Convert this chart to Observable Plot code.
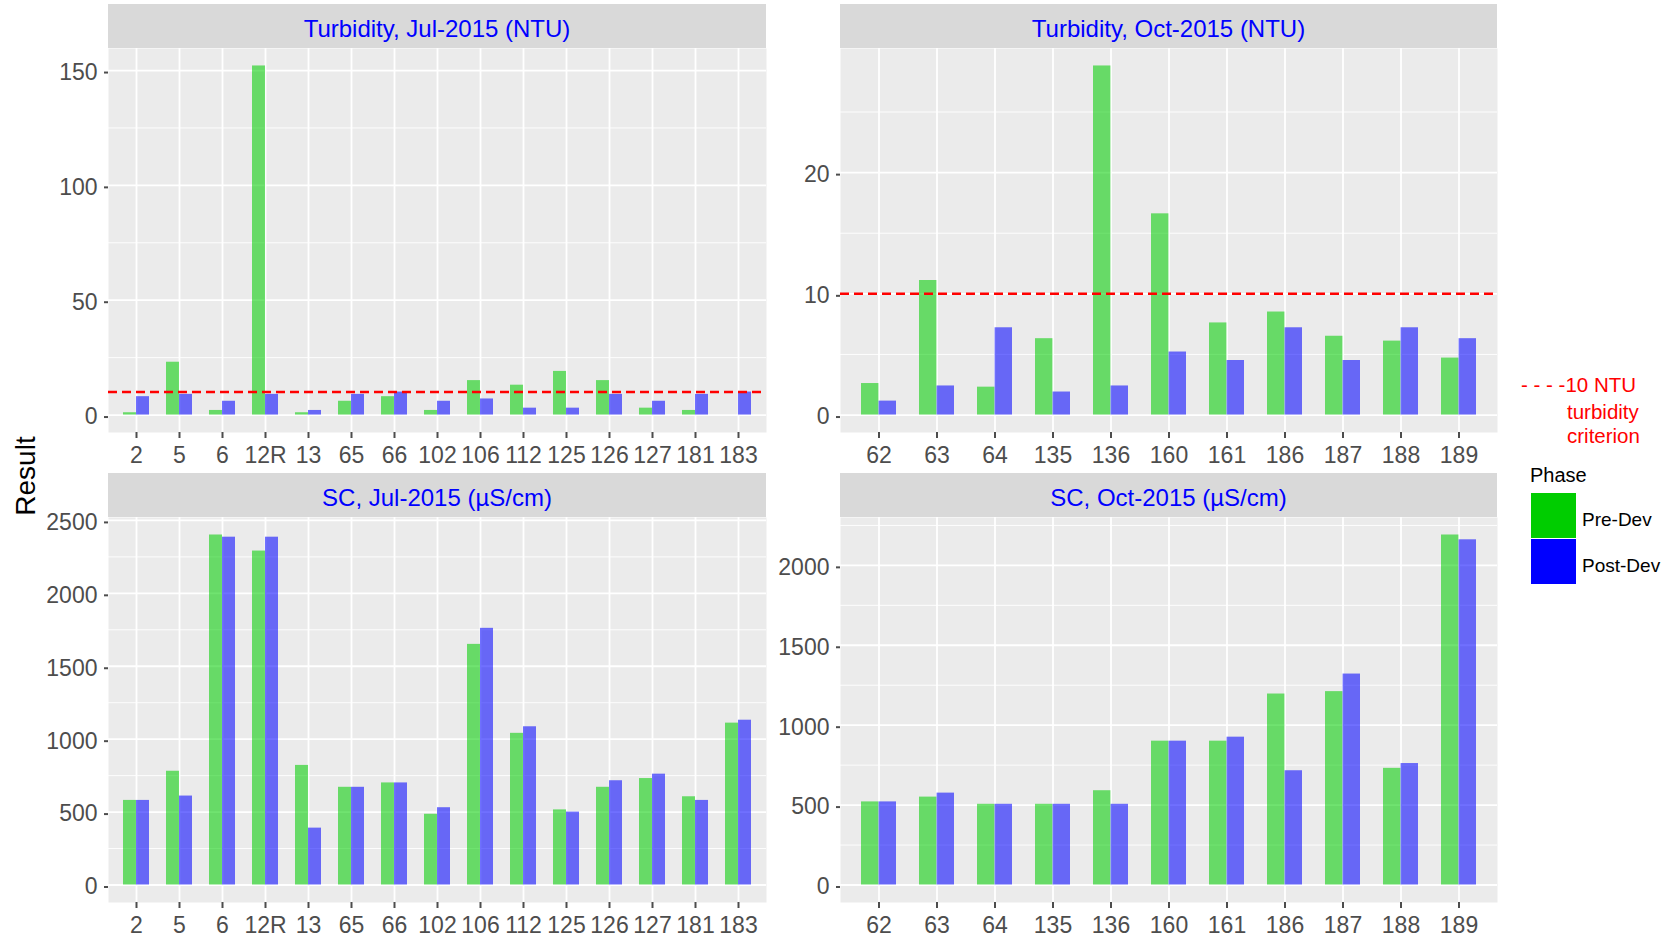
<!DOCTYPE html>
<html>
<head>
<meta charset="utf-8">
<script src="https://cdn.jsdelivr.net/npm/d3@7"></script>
<script src="https://cdn.jsdelivr.net/npm/@observablehq/plot@0.6"></script>
<style>
  html, body { margin: 0; padding: 0; background: #ffffff; }
  #wrap { position: relative; width: 1676px; height: 938px; font-family: "Liberation Sans", Arial, sans-serif; }
  .strip { position: absolute; background: #D9D9D9; color: #0000FF; font-size: 24px; text-align: center; line-height: 44px; height: 44px; }
  .strip span { position: relative; top: 3px; }
  .panel { position: absolute; }
  #overlay { position: absolute; left: 0; top: 0; }
</style>
</head>
<body>
<div id="wrap"></div>
<script>
// ---------------- DATA ----------------
const julSites = ["2","5","6","12R","13","65","66","102","106","112","125","126","127","181","183"];
const octSites = ["62","63","64","135","136","160","161","186","187","188","189"];

const turbJulPre  = [1, 23, 2, 152, 1, 6, 8, 2, 15, 13, 19, 15, 3, 2, null];
const turbJulPost = [8, 9, 6, 9, 2, 9, 10, 6, 7, 3, 3, 9, 6, 9, 10];

const turbOctPre  = [2.6, 11.1, 2.3, 6.3, 28.8, 16.6, 7.6, 8.5, 6.5, 6.1, 4.7];
const turbOctPost = [1.15, 2.4, 7.2, 1.9, 2.4, 5.2, 4.5, 7.2, 4.5, 7.2, 6.3];

const scJulPre  = [580, 780, 2400, 2290, 820, 670, 700, 485, 1650, 1040, 515, 670, 730, 605, 1110];
const scJulPost = [580, 610, 2385, 2385, 390, 670, 700, 530, 1760, 1085, 500, 715, 760, 580, 1130];

const scOctPre  = [520, 550, 505, 505, 590, 900, 900, 1195, 1210, 730, 2190];
const scOctPost = [520, 575, 505, 505, 505, 900, 925, 715, 1320, 760, 2160];

const turbJulTicks = [0, 50, 100, 150];
const turbJulMinor = [25, 75, 125];
const turbOctTicks = [0, 10, 20];
const turbOctMinor = [5, 15, 25];
const scJulTicks = [0, 500, 1000, 1500, 2000, 2500];
const scJulMinor = [250, 750, 1250, 1750, 2250];
const scOctTicks = [0, 500, 1000, 1500, 2000];
const scOctMinor = [250, 750, 1250, 1750, 2250];

const criterion = 10;
const phases = ["Pre-Dev", "Post-Dev"];
const phaseColors = ["#00CD00", "#0000FF"];

const titles = ["Turbidity, Jul-2015 (NTU)", "Turbidity, Oct-2015 (NTU)", "SC, Jul-2015 (\u00B5S/cm)", "SC, Oct-2015 (\u00B5S/cm)"];

// ---------------- DRAW ----------------
const FONT = "'Liberation Sans', Arial, sans-serif";
const wrap = document.getElementById("wrap");

function panel({sites, pre, post, ticks, minor, threshold, left, top, w, h, mL, mB, title}) {
  const rows = [];
  sites.forEach((s, i) => {
    if (pre[i] != null) rows.push({site: s, phase: phases[0], value: pre[i]});
    if (post[i] != null) rows.push({site: s, phase: phases[1], value: post[i]});
  });
  const n = sites.length;
  const step = w / (n + 0.2);
  const half = step * 0.3;
  const ymax = d3.max(rows, d => d.value);
  const chart = Plot.plot({
    width: mL + w,
    height: h + mB,
    marginLeft: mL, marginRight: 0, marginTop: 0, marginBottom: mB,
    style: {fontFamily: FONT, fontSize: "23px", background: "transparent", overflow: "visible"},
    x: {type: "band", domain: sites, paddingInner: 0.4, paddingOuter: 0.3, label: null},
    y: {domain: [-0.05 * ymax, 1.05 * ymax], label: null},
    marks: [
      Plot.frame({fill: "#EBEBEB", stroke: null}),
      Plot.gridY(minor, {stroke: "#ffffff", strokeOpacity: 1, strokeWidth: 0.9}),
      Plot.gridY(ticks, {stroke: "#ffffff", strokeOpacity: 1, strokeWidth: 1.8}),
      Plot.gridX(sites, {stroke: "#ffffff", strokeOpacity: 1, strokeWidth: 1.8}),
      Plot.barY(rows.filter(d => d.phase === phases[0]), {x: "site", y: "value", fill: phaseColors[0], fillOpacity: 0.56, insetRight: half}),
      Plot.barY(rows.filter(d => d.phase === phases[1]), {x: "site", y: "value", fill: phaseColors[1], fillOpacity: 0.56, insetLeft: half}),
      threshold != null ? Plot.ruleY([threshold], {stroke: "#FF0000", strokeWidth: 2.5, strokeDasharray: "9,5"}) : null,
      Plot.axisY(ticks, {tickSize: 4, tickPadding: 7, fontSize: 23, color: "#4D4D4D", strokeWidth: 2, label: null, tickFormat: d => String(d), dy: 2}),
      Plot.axisX({tickSize: 6, tickPadding: 8, fontSize: 23, color: "#4D4D4D", strokeWidth: 2, label: null})
    ]
  });
  chart.classList.add("panel");
  chart.style.left = (left - mL) + "px";
  chart.style.top = top + "px";
  wrap.appendChild(chart);

  const strip = document.createElement("div");
  strip.className = "strip";
  strip.style.left = left + "px";
  strip.style.top = (top - 44) + "px";
  strip.style.width = w + "px";
  const sp = document.createElement("span");
  sp.textContent = title;
  strip.appendChild(sp);
  wrap.appendChild(strip);
}

panel({sites: julSites, pre: turbJulPre, post: turbJulPost, ticks: turbJulTicks, minor: turbJulMinor, threshold: criterion,
       left: 108, top: 48, w: 658, h: 384, mL: 100, mB: 40, title: titles[0]});
panel({sites: octSites, pre: turbOctPre, post: turbOctPost, ticks: turbOctTicks, minor: turbOctMinor, threshold: criterion,
       left: 840, top: 48, w: 657, h: 384, mL: 70, mB: 40, title: titles[1]});
panel({sites: julSites, pre: scJulPre, post: scJulPost, ticks: scJulTicks, minor: scJulMinor, threshold: null,
       left: 108, top: 517, w: 658, h: 385, mL: 100, mB: 36, title: titles[2]});
panel({sites: octSites, pre: scOctPre, post: scOctPost, ticks: scOctTicks, minor: scOctMinor, threshold: null,
       left: 840, top: 517, w: 657, h: 385, mL: 70, mB: 36, title: titles[3]});

// ---------------- ANNOTATIONS / LEGEND ----------------
const NS = "http://www.w3.org/2000/svg";
const ov = document.createElementNS(NS, "svg");
ov.setAttribute("id", "overlay");
ov.setAttribute("width", 1676);
ov.setAttribute("height", 938);
ov.style.fontFamily = FONT;
wrap.appendChild(ov);

function txt(x, y, s, size, fill, extra) {
  const t = document.createElementNS(NS, "text");
  t.setAttribute("x", x); t.setAttribute("y", y);
  t.setAttribute("font-size", size); t.setAttribute("fill", fill);
  if (extra) for (const k in extra) t.setAttribute(k, extra[k]);
  t.textContent = s;
  ov.appendChild(t);
  return t;
}
txt(0, 0, "Result", 28, "#000000", {transform: "translate(35,476) rotate(-90)", "text-anchor": "middle"});

txt(1521, 392, "- - - -10 NTU", 20.5, "#FF0000");
txt(1567, 419, "turbidity", 20.5, "#FF0000");
txt(1567, 443, "criterion", 20.5, "#FF0000");

txt(1530, 482, "Phase", 20, "#000000");
phases.forEach((p, i) => {
  const r = document.createElementNS(NS, "rect");
  r.setAttribute("x", 1531); r.setAttribute("y", 493 + i * 46);
  r.setAttribute("width", 45); r.setAttribute("height", 45);
  r.setAttribute("fill", phaseColors[i]);
  ov.appendChild(r);
  txt(1582, 526 + i * 46, p, 19, "#000000");
});
</script>
</body>
</html>
